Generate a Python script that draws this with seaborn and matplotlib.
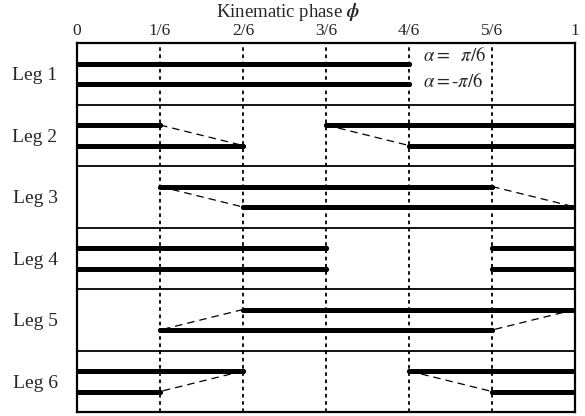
import pandas as pd
import seaborn as sns
import matplotlib.pyplot as plt

# === Data: phase intervals in sixths of the cycle ===
legs = ["Leg 1", "Leg 2", "Leg 3", "Leg 4", "Leg 5", "Leg 6"]
alpha_pos = [[(0, 4)], [(0, 1), (3, 6)], [(1, 5)], [(0, 3), (5, 6)], [(2, 6)], [(0, 2), (4, 6)]]
alpha_neg = [[(0, 4)], [(0, 2), (4, 6)], [(2, 6)], [(0, 3), (5, 6)], [(1, 5)], [(0, 1), (5, 6)]]
tick_labels = ["0", "1/6", "2/6", "3/6", "4/6", "5/6", "1"]

# === Build segment tables ===
bars, dashes = [], []
seg = 0
for i, (up, lo) in enumerate(zip(alpha_pos, alpha_neg)):
    y_up, y_lo = i + 1 / 3, i + 2 / 3
    for s, e in up:
        bars += [dict(phase=s / 6, y=y_up, seg=seg), dict(phase=e / 6, y=y_up, seg=seg)]
        seg += 1
    for s, e in lo:
        bars += [dict(phase=s / 6, y=y_lo, seg=seg), dict(phase=e / 6, y=y_lo, seg=seg)]
        seg += 1
    # dashed links where the two cases start or end at different phases
    for (s1, e1), (s2, e2) in zip(up, lo):
        for a, b in ((s1, s2), (e1, e2)):
            if a != b:
                dashes += [dict(phase=a / 6, y=y_up, seg=seg), dict(phase=b / 6, y=y_lo, seg=seg)]
                seg += 1

bars = pd.DataFrame(bars)
dashes = pd.DataFrame(dashes)

# === Plot ===
sns.set_theme(style="white")
plt.rcParams["font.family"] = ["Liberation Serif", "DejaVu Serif"]
plt.rcParams["mathtext.fontset"] = "stix"

fig = plt.figure(figsize=(5.85, 4.16), dpi=100)
ax = fig.add_axes([0.1316, 0.0096, 0.8514, 0.887])

for k in range(1, 6):
    ax.axvline(k / 6, color="black", ls=(0, (2, 2)), lw=1.3, zorder=1)
for r in range(1, 6):
    ax.axhline(r, color="black", lw=1.3, zorder=1)

sns.lineplot(data=dashes, x="phase", y="y", units="seg", estimator=None, sort=False,
             color="black", lw=0.9, ls=(0, (6, 4)), ax=ax, zorder=2)
sns.lineplot(data=bars, x="phase", y="y", units="seg", estimator=None, sort=False,
             color="black", lw=3.6, marker="o", markersize=3.5, markeredgewidth=0,
             ax=ax, zorder=3)

ax.text(0.695, 0.2, r"$\alpha = \ \ \pi/6$", fontsize=13.5, va="center", ha="left")
ax.text(0.695, 0.63, r"$\alpha = $-$\pi/6$", fontsize=13.5, va="center", ha="left")

ax.set_xlim(0, 1)
ax.set_ylim(6, 0)
ax.xaxis.tick_top()
ax.set_xticks([k / 6 for k in range(7)])
ax.set_xticklabels(tick_labels, fontsize=12.5)
ax.set_yticks([i + 0.5 for i in range(6)])
ax.set_yticklabels(legs, fontsize=14)
ax.tick_params(length=0, pad=3)
ax.tick_params(axis="y", pad=14)
ax.set_xlabel("")
ax.set_ylabel("")
for sp in ax.spines.values():
    sp.set_color("black")
    sp.set_linewidth(1.6)

fig.text(0.492, 1 - 12 / 416, r"Kinematic phase $\boldsymbol{\phi}$", fontsize=13.5,
         ha="center", va="center")

fig.savefig("out.png", dpi=100)
